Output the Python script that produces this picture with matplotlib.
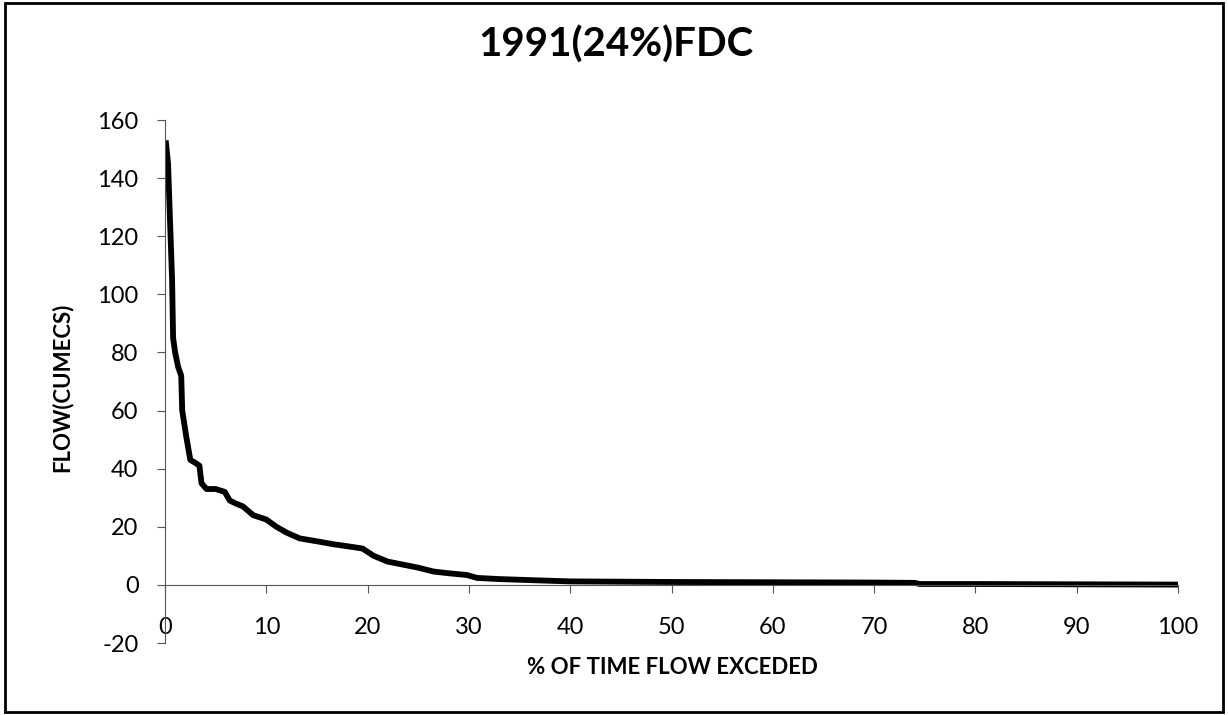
import numpy as np
import matplotlib
matplotlib.use("Agg")
import matplotlib.pyplot as plt

plt.rcParams['font.family'] = ['Lato', 'DejaVu Sans']
plt.rcParams['axes.unicode_minus'] = False

# % of time flow exceeded vs flow (cumecs)
pct_exceeded = [0.1, 0.3, 0.5, 0.7, 0.8, 1.0, 1.3, 1.6, 1.7, 2.1, 2.5, 3.0, 3.4,
                3.6, 4.1, 5.0, 5.9, 6.4, 7.0, 7.7, 8.7, 10.0, 11.0, 12.0, 13.3,
                15.0, 16.6, 18.6, 19.5, 20.6, 22.0, 24.9, 26.5, 28.0, 29.8, 30.8,
                33.0, 36.4, 40.0, 50.0, 60.0, 70.0, 74.0, 74.5, 80.0, 90.0, 100.0]
flow = [152, 145, 125, 105, 85, 80, 75, 72, 60, 51, 43, 42, 41,
        35, 33, 33, 32, 29, 28, 27, 24, 22.5, 20, 18, 16,
        15, 14, 13, 12.5, 10, 8, 6, 4.6, 4, 3.4, 2.4,
        2, 1.6, 1.2, 1.0, 0.9, 0.8, 0.7, 0.3, 0.3, 0.2, 0.1]

x_ticks = [0, 10, 20, 30, 40, 50, 60, 70, 80, 90, 100]
y_ticks = [-20, 0, 20, 40, 60, 80, 100, 120, 140, 160]

fig = plt.figure(figsize=(12.28, 7.15), dpi=100)
ax = fig.add_axes([165 / 1228, 1 - 643 / 715, (1178 - 165) / 1228, (643 - 120) / 715])

ax.plot(pct_exceeded, flow, color='black', lw=4.2, solid_joinstyle='round')

ax.set_xlim(0, 100)
ax.set_ylim(-20, 160)
ax.set_xticks(x_ticks)
ax.set_yticks(y_ticks)

ax.spines['top'].set_visible(False)
ax.spines['right'].set_visible(False)
ax.spines['bottom'].set_position(('data', 0))
ax.spines['left'].set_color('#555555')
ax.spines['bottom'].set_color('#555555')
ax.tick_params(axis='y', direction='out', length=6, color='#555555', labelsize=17, pad=13)
ax.tick_params(axis='x', direction='out', length=6, color='#555555', labelsize=17, pad=17)

fig.text(616 / 1228, 1 - 45 / 715, '1991(24%)FDC', ha='center', va='center',
         fontsize=29, fontweight='bold')
fig.text(62 / 1228, 1 - 387 / 715, 'FLOW(CUMECS)', ha='center', va='center',
         rotation=90, fontsize=16, fontweight='bold')
fig.text(672 / 1228, 1 - 667 / 715, '% OF TIME FLOW EXCEDED', ha='center', va='center',
         fontsize=16, fontweight='bold')

# outer chart border
fig.patches.append(plt.Rectangle((0.004, 0.004), 0.992, 0.992, transform=fig.transFigure,
                                 fill=False, edgecolor='black', lw=2))

fig.savefig('out.png', dpi=100)
